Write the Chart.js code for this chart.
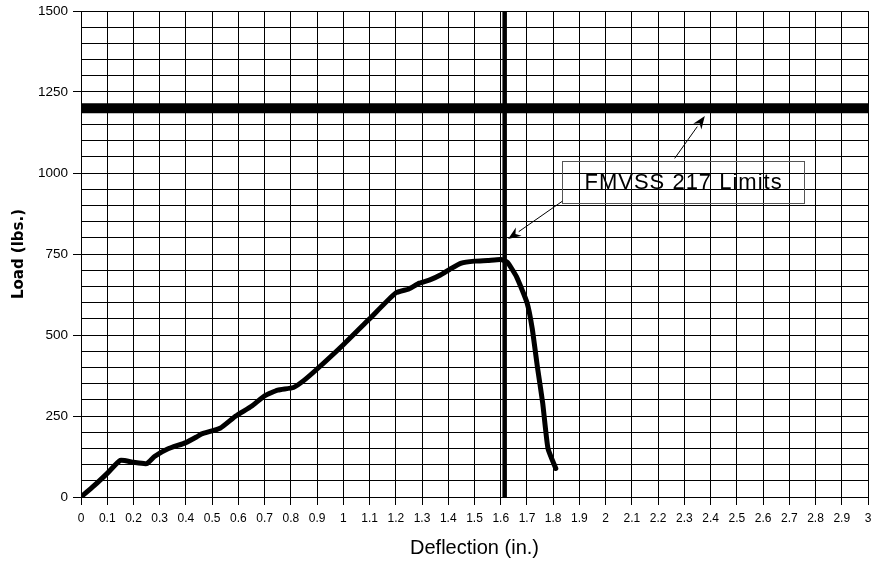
<!DOCTYPE html>
<html>
<head>
<meta charset="utf-8">
<script src="https://cdn.jsdelivr.net/npm/chart.js@4.4.1/dist/chart.umd.min.js"></script>
<style>
html,body{margin:0;padding:0;background:#fff;}
#wrap{width:873px;height:562px;position:relative;}
</style>
</head>
<body>
<div id="wrap"><canvas id="c"></canvas></div>
<script>
// Data
const deflection = [0, 0.05, 0.1, 0.15, 0.2, 0.25, 0.28, 0.33, 0.4, 0.44, 0.46, 0.53, 0.59, 0.65, 0.7, 0.75, 0.81, 0.85, 0.9, 1.0, 1.1, 1.2, 1.25, 1.29, 1.33, 1.37, 1.41, 1.45, 1.5, 1.55, 1.6, 1.625, 1.66, 1.7, 1.72, 1.74, 1.76, 1.78, 1.81];
const load = [0, 35, 73, 113, 107, 103, 125, 148, 168, 185, 195, 212, 250, 280, 312, 330, 338, 360, 395, 470, 550, 630, 642, 660, 670, 685, 705, 722, 728, 730, 733, 725, 680, 600, 520, 400, 290, 150, 88];
const loadLimit = 1200;
const deflectionLimit = 1.615;
const xTickLabels = ['0','0.1','0.2','0.3','0.4','0.5','0.6','0.7','0.8','0.9','1','1.1','1.2','1.3','1.4','1.5','1.6','1.7','1.8','1.9','2','2.1','2.2','2.3','2.4','2.5','2.6','2.7','2.8','2.9','3'];
const yTickLabels = ['0','250','500','750','1000','1250','1500'];
const annotationText = 'FMVSS 217 Limits';

const curvePoints = deflection.map((d, i) => ({x: d, y: load[i]}));

const annotationPlugin = {
  id: 'limitsNote',
  afterDatasetsDraw(chart) {
    const {ctx, scales: {x, y}} = chart;
    ctx.save();
    const bx1 = x.getPixelForValue(1.835), bx2 = x.getPixelForValue(2.759);
    const by1 = y.getPixelForValue(1036), by2 = y.getPixelForValue(906);
    ctx.strokeStyle = '#555';
    ctx.lineWidth = 1;
    ctx.strokeRect(Math.round(bx1) + 0.5, Math.round(by1) + 0.5, Math.round(bx2 - bx1), Math.round(by2 - by1));
    ctx.fillStyle = '#000';
    ctx.font = '22px "Liberation Sans", Arial, sans-serif';
    try { ctx.letterSpacing = '1px'; } catch (e) {}
    ctx.textAlign = 'center';
    ctx.textBaseline = 'middle';
    ctx.fillText(annotationText, (bx1 + bx2) / 2, (by1 + by2) / 2 + 1);
    try { ctx.letterSpacing = '0px'; } catch (e) {}
    const arrow = (x1, y1, x2, y2) => {
      const px1 = x.getPixelForValue(x1), py1 = y.getPixelForValue(y1);
      const px2 = x.getPixelForValue(x2), py2 = y.getPixelForValue(y2);
      const ang = Math.atan2(py2 - py1, px2 - px1);
      const len = 13, half = 5;
      const bxp = px2 - len * Math.cos(ang), byp = py2 - len * Math.sin(ang);
      ctx.strokeStyle = '#000';
      ctx.lineWidth = 1;
      ctx.beginPath();
      ctx.moveTo(px1, py1);
      ctx.lineTo(bxp, byp);
      ctx.stroke();
      ctx.beginPath();
      ctx.moveTo(px2, py2);
      ctx.lineTo(bxp + half * Math.sin(ang), byp - half * Math.cos(ang));
      ctx.lineTo(px2 - (len - 4) * Math.cos(ang), py2 - (len - 4) * Math.sin(ang));
      ctx.lineTo(bxp - half * Math.sin(ang), byp + half * Math.cos(ang));
      ctx.closePath();
      ctx.fill();
    };
    arrow(2.263, 1045, 2.378, 1176);
    arrow(1.835, 913, 1.628, 796);
    ctx.restore();
  }
};

new Chart(document.getElementById('c'), {
  type: 'scatter',
  data: {
    datasets: [
      {
        label: 'Load',
        data: curvePoints,
        showLine: true,
        borderColor: '#000',
        borderWidth: 5,
        pointRadius: 0,
        tension: 0.15,
        borderJoinStyle: 'round',
        borderCapStyle: 'round',
        order: 1
      },
      {
        label: 'Load limit',
        data: [{x: 0, y: loadLimit}, {x: 3, y: loadLimit}],
        showLine: true,
        borderColor: '#000',
        borderWidth: 10,
        pointRadius: 0,
        order: 2
      },
      {
        label: 'Deflection limit',
        data: [{x: deflectionLimit, y: 0}, {x: deflectionLimit, y: 1500}],
        showLine: true,
        borderColor: '#000',
        borderWidth: 4.5,
        pointRadius: 0,
        order: 3
      }
    ]
  },
  options: {
    responsive: true,
    maintainAspectRatio: false,
    animation: false,
    layout: {padding: {top: 11, right: 5, left: 0, bottom: 0}},
    plugins: {legend: {display: false}, tooltip: {enabled: false}},
    scales: {
      x: {
        type: 'linear',
        min: 0, max: 3,
        afterFit: s => { s.height = 65; s.paddingRight = 0; s.paddingLeft = 0; },
        ticks: {
          stepSize: 0.1,
          autoSkip: false,
          maxRotation: 0,
          color: '#000',
          padding: 6,
          font: {family: '"Liberation Sans", Arial, sans-serif', size: 12},
          callback: (v) => {
            const i = Math.round(v * 10);
            return (Math.abs(v * 10 - i) < 1e-6) ? xTickLabels[i] : '';
          }
        },
        grid: {color: '#000', lineWidth: 1, tickLength: 8, tickColor: '#000'},
        border: {color: '#000', width: 1},
        title: {
          display: true,
          text: 'Deflection (in.)',
          color: '#000',
          font: {family: '"Liberation Sans", Arial, sans-serif', size: 20},
          padding: {top: 0, bottom: 2}
        }
      },
      y: {
        type: 'linear',
        min: 0, max: 1500,
        afterFit: s => { s.width = 81; s.paddingTop = 0; s.paddingBottom = 0; },
        ticks: {
          stepSize: 50,
          autoSkip: false,
          color: '#000',
          padding: 5,
          font: {family: '"Liberation Sans", Arial, sans-serif', size: 13.5},
          callback: (v) => (v % 250 === 0) ? yTickLabels[v / 250] : ''
        },
        grid: {
          color: '#000', lineWidth: 1, tickLength: 8,
          tickColor: (ctx) => (ctx.tick && ctx.tick.value % 250 === 0) ? '#000' : 'rgba(0,0,0,0)'
        },
        border: {color: '#000', width: 1},
        title: {
          display: true,
          text: 'Load (lbs.)',
          color: '#000',
          font: {family: '"DejaVu Sans", sans-serif', size: 15, weight: 'bold'},
          padding: {top: 10, bottom: 0}
        }
      }
    }
  },
  plugins: [annotationPlugin]
});
</script>
</body>
</html>
